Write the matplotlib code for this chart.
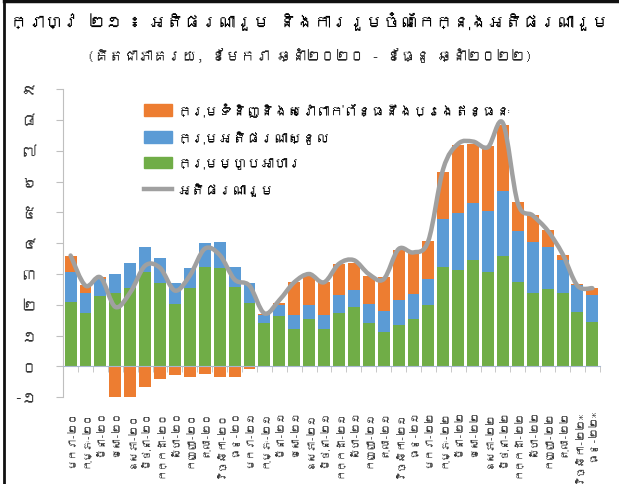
import matplotlib
matplotlib.use('Agg')
import matplotlib.pyplot as plt
from matplotlib.path import Path
from matplotlib.patches import PathPatch, Patch
from matplotlib.lines import Line2D
from matplotlib import font_manager as fm
from matplotlib.ft2font import FT2Font
import numpy as np

# ---------------- data ----------------
months = ['មករា', 'កុម្ភៈ', 'មីនា', 'មេសា', 'ឧសភា', 'មិថុនា',
          'កក្កដា', 'សីហា', 'កញ្ញា', 'តុលា', 'វិច្ឆិកា', 'ធ្នូ']
years = ['២០', '២១', '២២']
labels = [f"{m}-{y}" for y in years for m in months]
labels[-2] = labels[-2] + '*'
labels[-1] = labels[-1] + '*'

food = [2.10, 1.73, 2.27, 2.37, 2.53, 3.05, 2.71, 2.04, 2.53, 3.23, 3.21, 2.59,
        2.05, 1.40, 1.64, 1.21, 1.53, 1.21, 1.72, 1.93, 1.41, 1.12, 1.35, 1.53,
        1.99, 3.24, 3.14, 3.44, 3.06, 3.57, 2.73, 2.38, 2.51, 2.38, 1.75, 1.45]
core = [0.98, 0.65, 0.57, 0.63, 0.83, 0.84, 0.81, 0.66, 0.65, 0.77, 0.82, 0.63,
        0.65, 0.27, 0.36, 0.46, 0.46, 0.46, 0.61, 0.56, 0.61, 0.67, 0.80, 0.82,
        0.84, 1.55, 1.83, 1.88, 2.00, 2.13, 1.65, 1.65, 1.37, 1.07, 0.89, 0.87]
fuel = [0.50, 0.26, 0.05, -1.05, -0.99, -0.67, -0.40, -0.29, -0.33, -0.26, -0.34, -0.36,
        -0.10, 0.03, 0.05, 1.06, 0.96, 1.06, 0.99, 0.87, 0.91, 1.12, 1.63, 1.33,
        1.23, 1.52, 2.21, 1.91, 2.08, 2.13, 0.97, 0.90, 0.55, 0.18, 0.02, 0.21]
headline = [3.60, 2.62, 2.89, 1.93, 2.40, 3.27, 3.20, 2.46, 2.95, 3.82, 3.62, 2.82,
            2.62, 1.72, 2.15, 2.73, 3.00, 2.73, 3.33, 3.45, 3.00, 2.83, 3.81, 3.70,
            4.08, 6.42, 7.23, 7.30, 7.12, 7.90, 5.30, 4.90, 4.41, 3.65, 2.62, 2.54]

ytick_vals = [-1, 0, 1, 2, 3, 4, 5, 6, 7, 8, 9]
ytick_labels = ['-១', '០', '១', '២', '៣', '៤', '៥', '៦', '៧', '៨', '៩']

legend_labels = ['ក្រុមទំនិញនិងសេវាពាក់ព័ន្ធនឹងប្រេងឥន្ធនៈ', 'ក្រុមអតិផរណាស្នូល',
                 'ក្រុមម្ហូបអាហារ', 'អតិផរណារួម']
title = 'ក្រាហ្វ ២១ ៖ អតិផរណារួម និងការរួមចំណែកក្នុងអតិផរណារួម'
subtitle = '(គិតជាភាគរយ, ខែមករា ឆ្នាំ២០២០ - ខែធ្នូ ឆ្នាំ២០២២)'

# ---------------- fonts ----------------
def find_font(ch):
    seen = set()
    for f in fm.fontManager.ttflist:
        if f.fname in seen:
            continue
        seen.add(f.fname)
        try:
            ft = FT2Font(f.fname)
            if ft.get_char_index(ord(ch)):
                return f.name
        except Exception:
            pass
    return None

kh = find_font('ក')
families = [kh, 'DejaVu Sans'] if kh else ['DejaVu Sans']
plt.rcParams['font.family'] = families

ORANGE = '#ED7D31'
BLUE = '#5B9BD5'
GREEN = '#70AD47'
GRAY = '#A0A0A0'

fig = plt.figure(figsize=(6.19, 4.85), dpi=100)
ax = fig.add_axes([0.102, 0.179, 0.867, 0.635])

x = np.arange(len(labels))
food_a = np.array(food)
core_a = np.array(core)
fuel_a = np.array(fuel)
w = 0.8
ax.bar(x, food_a, width=w, color=GREEN, zorder=2)
ax.bar(x, core_a, width=w, bottom=food_a, color=BLUE, zorder=2)
fuel_bottom = np.where(fuel_a >= 0, food_a + core_a, 0)
ax.bar(x, fuel_a, width=w, bottom=fuel_bottom, color=ORANGE, zorder=2)

# smoothed headline line (Catmull-Rom -> cubic Bezier)
hy = np.array(headline, dtype=float)
pts = np.column_stack([x, hy])
verts = [tuple(pts[0])]
codes = [Path.MOVETO]
n = len(pts)
for i in range(n - 1):
    p0 = pts[i - 1] if i > 0 else pts[i]
    p1 = pts[i]
    p2 = pts[i + 1]
    p3 = pts[i + 2] if i + 2 < n else pts[i + 1]
    c1 = p1 + (p2 - p0) / 6.0
    c2 = p2 - (p3 - p1) / 6.0
    verts += [tuple(c1), tuple(c2), tuple(p2)]
    codes += [Path.CURVE4] * 3
path = Path(verts, codes)
ax.add_patch(PathPatch(path, facecolor='none', edgecolor=GRAY, lw=3.2,
                       capstyle='round', joinstyle='round', zorder=3))

ax.set_xlim(-0.5, len(labels) - 0.5)
ax.set_ylim(-1, 9)

for s in ['top', 'right']:
    ax.spines[s].set_visible(False)
ax.spines['left'].set_color('#BFBFBF')
ax.spines['bottom'].set_position(('data', 0))
ax.spines['bottom'].set_color('#A9B8D0')
ax.spines['bottom'].set_zorder(4)

ax.set_yticks(ytick_vals)
ax.set_yticklabels(ytick_labels, fontsize=11, color='#333333')
ax.tick_params(axis='y', length=5, color='#BFBFBF', pad=14)

ax.set_xticks(x)
ax.set_xticklabels(labels, rotation=90, fontsize=7.5, color='#333333', va='top')
ax.tick_params(axis='x', which='major', length=0, pad=31)
ax.set_xticks(np.arange(-0.5, len(labels), 1), minor=True)
ax.tick_params(axis='x', which='minor', length=4, color='#BFBFBF', direction='out')

handles = [Patch(color=ORANGE), Patch(color=BLUE), Patch(color=GREEN),
           Line2D([0], [0], color=GRAY, lw=3.2)]
ax.legend(handles, legend_labels, loc='upper left', bbox_to_anchor=(0.14, 0.975),
          frameon=False, fontsize=10, handlelength=2.0, handleheight=0.9,
          labelspacing=0.95, handletextpad=0.4, borderaxespad=0)

fig.text(0.5, 0.955, title, ha='center', va='center', fontsize=12.5, fontweight='bold')
fig.text(0.5, 0.885, subtitle, ha='center', va='center', fontsize=10.5, color='#222222')

# frame border
fig.add_artist(Line2D([0.007, 0.007], [0, 0.996], transform=fig.transFigure, color='#111111', lw=2))
fig.add_artist(Line2D([0.007, 0.998], [0.996, 0.996], transform=fig.transFigure, color='#111111', lw=2.5))

fig.savefig('out.png', dpi=100)
